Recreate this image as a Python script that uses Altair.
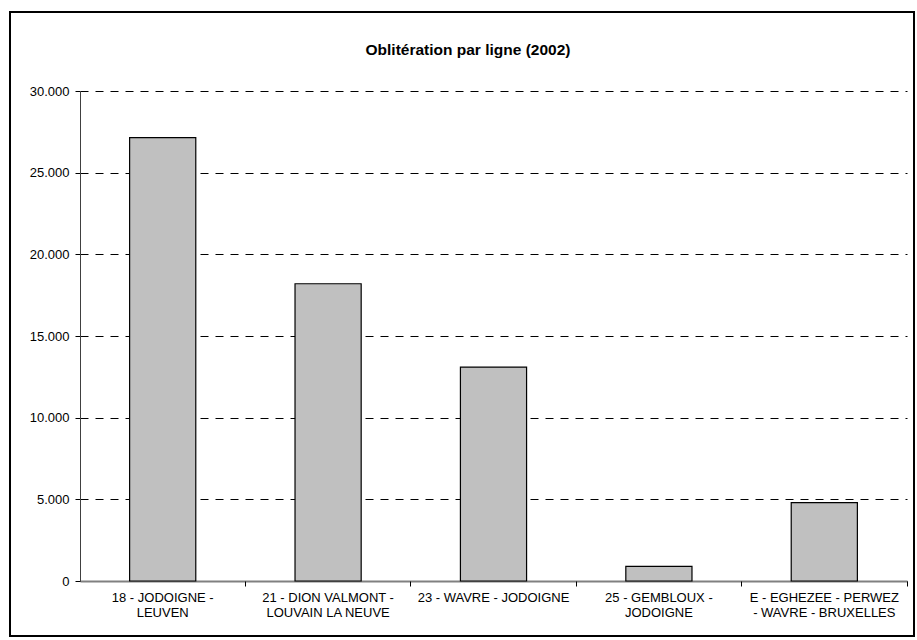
import altair as alt
import pandas as pd

categories = [
    "18 - JODOIGNE -\nLEUVEN",
    "21 - DION VALMONT -\nLOUVAIN LA NEUVE",
    "23 - WAVRE - JODOIGNE",
    "25 - GEMBLOUX -\nJODOIGNE",
    "E - EGHEZEE - PERWEZ\n- WAVRE - BRUXELLES",
]
values = [27150, 18200, 13100, 900, 4800]
y_ticks = [0, 5000, 10000, 15000, 20000, 25000, 30000]
title_text = "Oblitération par ligne (2002)"

FONT = "Arial, Liberation Sans, sans-serif"

df = pd.DataFrame({"ligne": categories, "valeur": values})
single_df = pd.DataFrame({"titre": [title_text]})

xscale = alt.Scale(domain=categories, paddingInner=0, paddingOuter=0)
yscale = alt.Scale(domain=[0, 30000], nice=False)

bars = alt.Chart(df).mark_bar(
    color="#C0C0C0", stroke="#000000", strokeWidth=1.2,
    width=alt.RelativeBandSize(0.4)
).encode(
    x=alt.X("ligne:N", sort=categories, scale=xscale,
            axis=alt.Axis(title=None, labelAngle=0, ticks=False, orient="bottom",
                          domain=True, domainColor="#808080", domainWidth=2,
                          labelExpr="split(datum.label, '\\n')",
                          labelFont=FONT, labelFontSize=13, labelColor="#000000",
                          labelPadding=10, labelLineHeight=15, grid=False,
                          labelBaseline="top")),
    y=alt.Y("valeur:Q", scale=yscale,
            axis=alt.Axis(title=None, values=y_ticks,
                          labelExpr="replace(format(datum.value, ',d'), ',', '.')",
                          grid=True, gridDash=[8, 7], gridColor="#000000", gridWidth=1,
                          domain=True, domainColor="#404040", domainWidth=1,
                          ticks=True, tickSize=5, tickColor="#000000",
                          labelFont=FONT, labelFontSize=13, labelColor="#000000",
                          labelPadding=6)),
)

ticks_layer = alt.Chart(df).mark_point(opacity=0).encode(
    x=alt.X("ligne:N", sort=categories, scale=xscale,
            axis=alt.Axis(title=None, labels=False, domain=False, grid=False,
                          ticks=True, tickSize=5, tickColor="#000000",
                          bandPosition=1, orient="bottom")),
)

frame = alt.Chart(single_df).mark_rect(
    fillOpacity=0, stroke="#000000", strokeWidth=2
).encode(
    x=alt.value(-70), x2=alt.value(834),
    y=alt.value(-79), y2=alt.value(545),
)

title_mark = alt.Chart(single_df).mark_text(
    font=FONT, fontSize=15.5, fontWeight="bold", color="#000000",
    align="center", baseline="alphabetic"
).encode(
    text="titre:N",
    x=alt.value(388), y=alt.value(-36),
)

chart = alt.layer(frame, bars, ticks_layer, title_mark).resolve_scale(
    x="shared"
).resolve_axis(
    x="independent"
).properties(
    width=827, height=490,
    autosize=alt.AutoSizeParams(type="none"),
    padding={"left": 80, "top": 91, "right": 10, "bottom": 59},
).configure_view(strokeWidth=0)

chart.save("out.html", embed_options={"renderer": "svg", "actions": False})
